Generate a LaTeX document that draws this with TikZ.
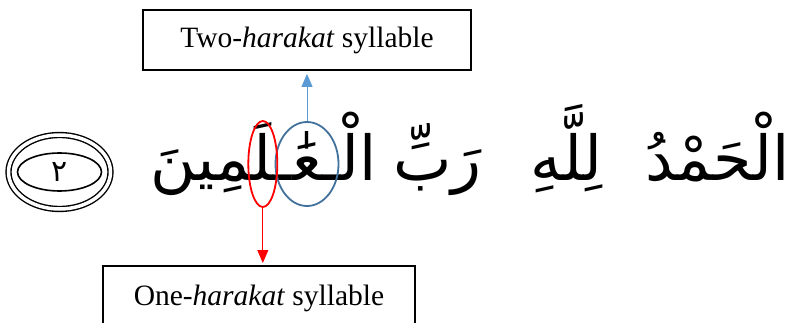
\documentclass[tikz,border=0pt]{standalone}
\usepackage{fontspec}
\setmainfont{Liberation Serif}
\newfontfamily\arabicfont[Script=Arabic]{DejaVu Sans}
\TeXXeTstate=1
\usetikzlibrary{arrows.meta,positioning,shapes.geometric}
\newcommand{\zwj}{^^^^200d}
\newcommand{\ar}[1]{\beginR #1\endR}
\definecolor{ringblue}{HTML}{41719C}
\definecolor{arrowblue}{HTML}{5B9BD5}
\begin{document}
\begin{tikzpicture}[x=1pt,y=-1pt,
  caption/.style={draw,line width=1.8pt,inner sep=0pt,font=\fontsize{29.5}{31}\selectfont},
  word/.style={inner sep=0pt,anchor=base east,font=\fontsize{62}{66}\arabicfont},
  ring/.style={draw,ellipse,line width=1.8pt,inner sep=0pt},
  tip/.style={-{Triangle[length=13pt,width=11pt]},line width=0.9pt}]
  \useasboundingbox (0,0) rectangle (797,323);
  % captions
  \node[caption,minimum width=328,minimum height=60] (two) at (307,40) {Two-\textit{harakat} syllable};
  \node[caption,minimum width=312,minimum height=66,anchor=north] (one) at (259,265) {One-\textit{harakat} syllable};
  % verse
  \node[word] (w1) at (790,180) {\ar{الْحَمْدُ}};
  \node[word] (w2) at (603,180) {\ar{لِلَّهِ}};
  \node[word] (w3) at (482,180) {\ar{رَبِّ}};
  \node[word,anchor=base] (ain) at (307,180) {\ar{\zwj عَٰ\zwj}};
  \node[word,anchor=base west] (alif) at (ain.base east) {\ar{الْـ\zwj}};
  \node[word] (kash) at (ain.base west) {\ar{\zwj ـ\zwj}};
  \node[word] (lam) at (kash.base west) {\ar{\zwj لَ\zwj}};
  \node[word] (rest) at (lam.base west) {\ar{\zwj مِينَ}};
  % end of verse mark
  \node[ellipse,draw,double,double distance=3.5pt,line width=1.4pt,minimum width=102,minimum height=74] (mark) at (59.5,172) {};
  \node[ellipse,draw,line width=1.6pt,minimum width=84,minimum height=38,font=\fontsize{30}{32}\arabicfont] (num) at (mark.center) {٢};
  % syllables
  \coordinate (mid) at (0,164);
  \node[ring,draw=ringblue,minimum width=63,minimum height=84] (twoell) at (ain |- mid) {};
  \node[ring,draw=red,minimum width=29,minimum height=86] (oneell) at (lam |- mid) {};
  \draw[tip,arrowblue] (twoell.north) -- ([yshift=-3pt]twoell.north |- two.south);
  \draw[tip,red] (oneell.south) -- ([yshift=2pt]oneell.south |- one.north);
\end{tikzpicture}
\end{document}
